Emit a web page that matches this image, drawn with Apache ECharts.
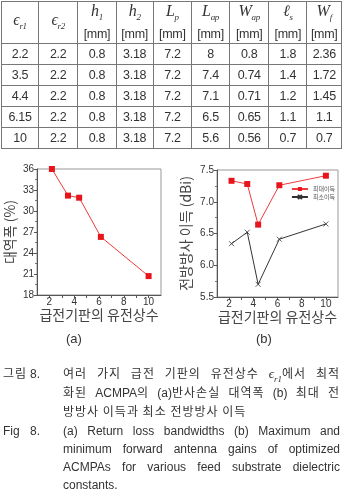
<!DOCTYPE html>
<html>
<head>
<meta charset="utf-8">
<script src="https://cdn.jsdelivr.net/npm/echarts@6/dist/echarts.min.js"></script>
<style>
  body { margin: 0; width: 342px; height: 490px; background: #fff; position: relative; overflow: hidden; }
  #main { position: absolute; left: 0; top: 0; width: 342px; height: 490px; }
  #tbl { position: absolute; left: 1px; top: 1px; border-collapse: collapse; font-family: "Liberation Sans", Arial, sans-serif; font-size: 12.5px; color: #333; }
  #tbl td { border: 1px solid #777; text-align: center; padding: 0; height: 20px; letter-spacing: -0.3px; }
  #tbl tr.hd td { height: 39px; line-height: 17px; }
  .m { font-family: "Liberation Serif", "DejaVu Serif", serif; font-style: italic; font-size: 16px; }
  .m sub { font-size: 9px; }
  .cap { position: absolute; font-size: 12px; color: #333; white-space: nowrap; }
  .ko { font-family: "Noto Sans CJK KR", sans-serif; letter-spacing: 1px; }
  .ko .lt { letter-spacing: 0; font-family: "Liberation Sans", Arial, sans-serif; }
  .en { font-family: "Liberation Sans", Arial, sans-serif; }
  .jf { text-align: justify; text-align-last: justify; white-space: normal; }
</style>
</head>
<body>
<div id="main"></div>
<table id="tbl"></table>

<div class="cap ko" style="left:3px;top:364px;">그림</div>
<div class="cap ko" style="left:30px;top:364px;"><span class="lt">8.</span></div>
<div class="cap ko jf" style="left:63px;top:364px;width:277px;">여러 가지 급전 기판의 유전상수 <span class="m" style="font-size:13px;letter-spacing:0">ϵ<sub>r1</sub></span>에서 최적</div>
<div class="cap ko jf" style="left:63px;top:383px;width:277px;">화된 <span class="lt">ACMPA</span>의 <span class="lt">(a)</span>반사손실 대역폭 <span class="lt">(b)</span> 최대 전</div>
<div class="cap ko" style="left:63px;top:402px;">방방사 이득과 최소 전방방사 이득</div>
<div class="cap en" style="left:3px;top:424px;">Fig</div>
<div class="cap en" style="left:30px;top:424px;">8.</div>
<div class="cap en jf" style="left:63px;top:424px;width:277px;">(a) Return loss bandwidths (b) Maximum and</div>
<div class="cap en jf" style="left:63px;top:442px;width:277px;">minimum forward antenna gains of optimized</div>
<div class="cap en jf" style="left:63px;top:460px;width:277px;">ACMPAs for various feed substrate dielectric</div>
<div class="cap en" style="left:63px;top:478px;">constants.</div>

<script>
// 표 데이터
const headSym = ['ϵ<sub>r1</sub>', 'ϵ<sub>r2</sub>', 'h<sub>1</sub>', 'h<sub>2</sub>', 'L<sub>p</sub>',
  'L<sub>ap</sub>', 'W<sub>ap</sub>', 'ℓ<sub>s</sub>', 'W<sub>f</sub>'];
const headUnit = ['', '', '[mm]', '[mm]', '[mm]', '[mm]', '[mm]', '[mm]', '[mm]'];
const colWidths = [37, 40, 38, 37, 38, 38, 39, 38, 34];
const tableRows = [
  ['2.2', '2.2', '0.8', '3.18', '7.2', '8', '0.8', '1.8', '2.36'],
  ['3.5', '2.2', '0.8', '3.18', '7.2', '7.4', '0.74', '1.4', '1.72'],
  ['4.4', '2.2', '0.8', '3.18', '7.2', '7.1', '0.71', '1.2', '1.45'],
  ['6.15', '2.2', '0.8', '3.18', '7.2', '6.5', '0.65', '1.1', '1.1'],
  ['10', '2.2', '0.8', '3.18', '7.2', '5.6', '0.56', '0.7', '0.7']
];

// 그래프 데이터
const epsR1 = [2.2, 3.5, 4.4, 6.15, 10];
const bandwidth = [36, 32.2, 31.9, 26.3, 20.7];
const gainMax = [7.33, 7.28, 6.64, 7.26, 7.41];
const gainMin = [6.34, 6.52, 5.70, 6.41, 6.65];
const xLabels = [2, 4, 6, 8, 10];
const xTicks = [2, 3, 4, 5, 6, 7, 8, 9, 10];

let html = '<tr class="hd">';
for (let i = 0; i < headSym.length; i++) {
  html += '<td style="width:' + colWidths[i] + 'px"><span class="m">' + headSym[i] + '</span>' +
    (headUnit[i] ? '<br>' + headUnit[i] : '') + '</td>';
}
html += '</tr>';
tableRows.forEach(function (r) {
  html += '<tr>' + r.map(function (v) { return '<td>' + v + '</td>'; }).join('') + '</tr>';
});
document.getElementById('tbl').innerHTML = html;

const pairs = (ys) => epsR1.map((x, i) => [x, ys[i]]);

const koFont = '"Noto Sans CJK KR", sans-serif';
const numFont = '"Liberation Sans", Arial, sans-serif';

function xAxisOpt(idx) {
  return {
    gridIndex: idx, type: 'value', min: 1, max: 11,
    name: '급전기판의 유전상수', nameLocation: 'middle', nameGap: 11,
    nameTextStyle: { fontFamily: koFont, fontSize: 14, color: '#444' },
    axisLine: { lineStyle: { color: '#555' } },
    axisTick: { length: 3, customValues: xTicks, lineStyle: { color: '#555' } },
    axisLabel: { customValues: xLabels, fontSize: 10, margin: 2, color: '#333', fontFamily: numFont },
    splitLine: { show: false }
  };
}

const redItem = { color: '#e8141c' };
const crossPath = 'path://M0,0L10,10M10,0L0,10';

const option = {
  animation: false,
  grid: [
    { left: 37, top: 169, width: 124, height: 126, show: true, borderColor: '#999', borderWidth: 1 },
    { left: 217, top: 170, width: 121, height: 127, show: true, borderColor: '#999', borderWidth: 1 }
  ],
  xAxis: [xAxisOpt(0), xAxisOpt(1)],
  yAxis: [
    {
      gridIndex: 0, type: 'value', min: 18, max: 36, interval: 3,
      name: '대역폭 (%)', nameLocation: 'middle', nameGap: 20,
      nameTextStyle: { fontFamily: koFont, fontSize: 14, color: '#444' },
      axisLine: { show: true, lineStyle: { color: '#555' } },
      axisTick: { show: true, length: 3, lineStyle: { color: '#555' } },
      minorTick: { show: true, splitNumber: 2, length: 2, lineStyle: { color: '#777' } },
      axisLabel: { fontSize: 10, margin: 3, color: '#333', fontFamily: numFont },
      splitLine: { show: false }
    },
    {
      gridIndex: 1, type: 'value', min: 5.5, max: 7.5, interval: 0.5,
      name: '전방방사 이득 (dBi)', nameLocation: 'middle', nameGap: 24,
      nameTextStyle: { fontFamily: koFont, fontSize: 14, color: '#444' },
      axisLine: { show: true, lineStyle: { color: '#555' } },
      axisTick: { show: true, length: 3, lineStyle: { color: '#555' } },
      minorTick: { show: true, splitNumber: 2, length: 2, lineStyle: { color: '#777' } },
      axisLabel: { fontSize: 10, margin: 3, color: '#333', fontFamily: numFont,
        formatter: (v) => v.toFixed(1) },
      splitLine: { show: false }
    }
  ],
  legend: {
    right: 2, top: 181, orient: 'vertical', itemWidth: 16, itemHeight: 5, itemGap: 2,
    textStyle: { fontFamily: koFont, fontSize: 6, color: '#555' },
    data: ['최대이득', '최소이득']
  },
  graphic: [
    { type: 'text', left: 66, top: 333, style: { text: '(a)', font: '13px "Liberation Sans", Arial', fill: '#333' } },
    { type: 'text', left: 256, top: 333, style: { text: '(b)', font: '13px "Liberation Sans", Arial', fill: '#333' } }
  ],
  series: [
    {
      type: 'line', xAxisIndex: 0, yAxisIndex: 0, data: pairs(bandwidth),
      symbol: 'rect', symbolSize: 6, lineStyle: { width: 1, color: '#ee3a3a' }, itemStyle: redItem
    },
    {
      name: '최대이득', type: 'line', xAxisIndex: 1, yAxisIndex: 1, data: pairs(gainMax),
      symbol: 'rect', symbolSize: 6, lineStyle: { width: 1, color: '#ee3a3a' }, itemStyle: redItem
    },
    {
      name: '최소이득', type: 'line', xAxisIndex: 1, yAxisIndex: 1, data: pairs(gainMin),
      symbol: crossPath, symbolSize: 5, lineStyle: { width: 1, color: '#333' },
      itemStyle: { color: 'transparent', borderColor: '#333', borderWidth: 0.8 }
    }
  ]
};

const myChart = echarts.init(document.getElementById('main'), null, { renderer: 'canvas' });
myChart.setOption(option);
</script>
</body>
</html>
